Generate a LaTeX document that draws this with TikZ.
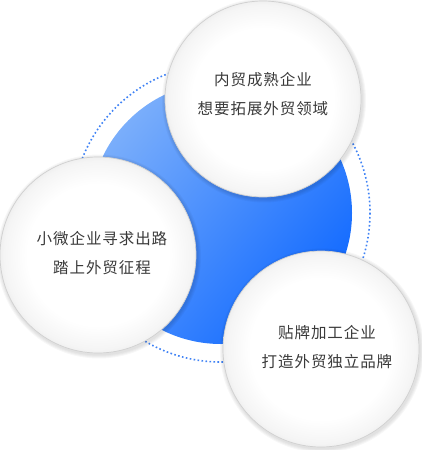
\documentclass[tikz,border=0pt]{standalone}
\usepackage{fontspec}
\newfontfamily\cjk[LetterSpace=6]{Noto Sans CJK SC}
\usetikzlibrary{shadings}
\definecolor{bluelight}{HTML}{7AAEFB}
\definecolor{bluedark}{HTML}{126AFF}
\definecolor{dotblue}{HTML}{3F82F5}
\definecolor{txt}{HTML}{3A3A3A}
\definecolor{rim}{HTML}{D0D0D0}
\pgfdeclareradialshading{bubbleshade}{\pgfpoint{0bp}{0bp}}{color(0bp)=(white); color(18bp)=(white); color(24bp)=(black!4); color(25bp)=(black!6); color(50bp)=(black!6)}
\tikzset{
  bubble/.style={circle, minimum size=196pt, inner sep=0pt, shading=bubbleshade, draw=rim, line width=0.7pt},
  halo/.style={circle, minimum size=#1, inner sep=0pt, fill=black, fill opacity=0.03, draw=none},
  caption/.style={font=\cjk\fontsize{15.5}{29}\selectfont, text=txt, align=center, inner sep=0pt}
}
\begin{document}
\begin{tikzpicture}[x=1pt,y=-1pt]
\useasboundingbox (0,0) rectangle (422,450);
% dotted ring and blue disc
\coordinate (c) at (221,213);
\draw[dotblue, line width=1.6pt, dash pattern=on 1.6pt off 2.4pt] (c) circle[radius=149];
\shade[top color=bluelight, bottom color=bluedark, shading angle=50] (c) circle[radius=131];
% bubbles with soft shadows
\foreach \x/\y/\n in {263/99/a, 98/255/b, 321/349/d}{
  \foreach \s in {8,6,4,2}{
    \node[halo=196pt+\s pt] at (\x+1,\y+1.5) {};
  }
  \node[bubble] (\n) at (\x,\y) {};
}
\node[caption] (ta) at (263,94) {内贸成熟企业\\想要拓展外贸领域};
\node[caption] (tb) at (102,253) {小微企业寻求出路\\踏上外贸征程};
\node[caption] (td) at (327,347) {贴牌加工企业\\打造外贸独立品牌};
\end{tikzpicture}
\end{document}
